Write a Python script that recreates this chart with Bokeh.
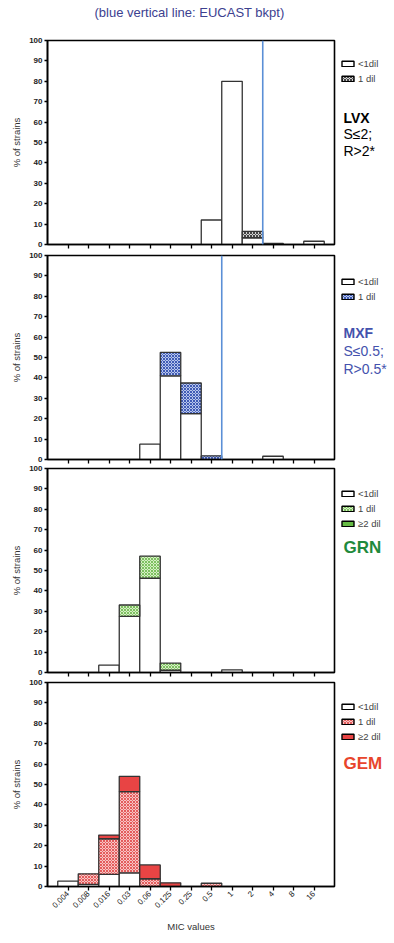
import math
from bokeh.plotting import figure
from bokeh.layouts import column, row
from bokeh.models import (ColumnDataSource, FixedTicker, Span, Label, Legend, LegendItem,
                          Range1d, CustomLabelingPolicy)
from bokeh.embed import file_html
from bokeh.resources import INLINE

# ---------------- data ----------------
mic_labels = ["0.004", "0.008", "0.016", "0.03", "0.06", "0.125", "0.25",
              "0.5", "1", "2", "4", "8", "16"]
y_ticks = [0, 10, 20, 30, 40, 50, 60, 70, 80, 90, 100]

lvx_lt1 = [0, 0, 0, 0, 0, 0, 0, 12, 80, 3.3, 0, 0, 1.6]
lvx_1dil = [0, 0, 0, 0, 0, 0, 0, 0, 0, 3.1, 0.6, 0, 0]
lvx_bkpt = "2"

mxf_lt1 = [0, 0, 0, 0, 7.5, 41, 22.5, 0, 0, 0, 1.6, 0, 0]
mxf_1dil = [0, 0, 0, 0, 0, 11.5, 15, 1.8, 0, 0, 0, 0, 0]
mxf_bkpt = "0.5"

grn_lt1 = [0, 0, 3.6, 27.5, 46.2, 1.1, 0, 0, 1.3, 0, 0, 0, 0]
grn_1dil = [0, 0, 0, 5.6, 10.8, 3.5, 0, 0, 0, 0, 0, 0, 0]
grn_2dil = [0, 0, 0, 0, 0, 0, 0, 0, 0, 0, 0, 0, 0]

gem_lt1 = [2.6, 1.0, 5.9, 6.7, 0, 0, 0, 0, 0, 0, 0, 0, 0]
gem_1dil = [0, 5.2, 17.5, 39.8, 3.8, 0, 0, 1.6, 0, 0, 0, 0, 0]
gem_2dil = [0, 0, 1.8, 7.5, 6.8, 1.8, 0, 0, 0, 0, 0, 0, 0]

title_text = "(blue vertical line: EUCAST bkpt)"

FONT = "Liberation Sans"
N = len(mic_labels)
IDX = list(range(N))
EDGE = "#333333"
MAIN_W = 340
SIDE_W = 52
TITLE_H = 24

WHITE = dict(fill_color="white")


def hatch(fill, hcol):
    return dict(fill_color=fill, hatch_pattern="diagonal_cross", hatch_color=hcol,
                hatch_scale=3, hatch_weight=1.0)


HIDE_LABELS = CustomLabelingPolicy(code="for (const i of indices) { indices.unset(i) }\nreturn indices")


def bare_figure(w, h, top=0, bottom=0):
    f = figure(width=w, height=h, output_backend="svg", toolbar_location=None,
               x_range=Range1d(0, w), y_range=Range1d(0, 100 if top or bottom else h),
               x_axis_location=None, y_axis_location=None,
               min_border_left=0, min_border_right=0, min_border_top=top,
               min_border_bottom=bottom)
    f.xgrid.visible = False
    f.ygrid.visible = False
    f.outline_line_color = None
    return f


def make_panel(series, height, top, bottom, texts, legend_y, bkpt=None, last=False):
    p = figure(width=MAIN_W, height=height, output_backend="svg", toolbar_location=None,
               x_range=Range1d(-1, 13), y_range=Range1d(0, 100),
               min_border_left=47, min_border_right=6, min_border_top=top,
               min_border_bottom=bottom)
    p.xgrid.visible = False
    p.ygrid.visible = False
    p.outline_line_color = "black"
    p.outline_line_width = 1.6

    # side panel holding legend and annotation text (same vertical frame as p)
    s = bare_figure(SIDE_W, height, top, bottom)

    cum = [0.0] * N
    items = []
    for label, vals, style in series:
        xs, bots, tops = [], [], []
        full_bot = list(cum)
        for i, v in enumerate(vals):
            if v > 0:
                xs.append(i)
                bots.append(cum[i])
                tops.append(cum[i] + v)
            cum[i] += v
        src = ColumnDataSource(dict(x=xs, bottom=bots, top=tops))
        p.vbar(x="x", bottom="bottom", top="top", width=1.0, source=src,
               line_color=EDGE, line_width=1.3, **style)
        # hidden copy of the full series, used only to draw the legend swatch
        full_src = ColumnDataSource(dict(x=IDX, bottom=full_bot,
                                         top=[b + v for b, v in zip(full_bot, vals)]))
        swatch = s.vbar(x="x", bottom="bottom", top="top", width=1.0, source=full_src,
                        line_color="black", line_width=1.4, visible=False, **style)
        items.append(LegendItem(label=label, renderers=[swatch]))

    leg = Legend(items=items, location=(0, legend_y), padding=0, margin=0,
                 spacing=3, glyph_width=15, glyph_height=7, label_height=12,
                 label_standoff=3, label_text_font=FONT, label_text_font_size="9.5px",
                 label_text_color="#444444", border_line_alpha=0,
                 background_fill_alpha=0, inactive_fill_alpha=0, click_policy="none")
    s.add_layout(leg)

    for (txt, yv, size, style, color) in texts:
        s.add_layout(Label(x=3, y=yv, text=txt, text_font=FONT,
                           text_font_size=size, text_font_style=style,
                           text_color=color, text_baseline="middle"))

    if bkpt is not None:
        p.add_layout(Span(location=mic_labels.index(bkpt) + 0.5, dimension="height",
                          line_color="#5b8fd6", line_width=1.6))

    ya = p.yaxis[0]
    ya.ticker = FixedTicker(ticks=y_ticks)
    ya.axis_line_color = "black"
    ya.axis_line_width = 1.6
    ya.major_tick_out = 3
    ya.major_tick_in = 0
    ya.major_tick_line_width = 1.3
    ya.minor_tick_line_color = None
    ya.major_label_text_font = FONT
    ya.major_label_text_font_size = "8px"
    ya.major_label_text_font_style = "bold"
    ya.major_label_text_color = "#222222"
    ya.major_label_standoff = 2
    ya.axis_label = "% of strains"
    ya.axis_label_text_font = FONT
    ya.axis_label_text_font_size = "9.5px"
    ya.axis_label_text_font_style = "normal"
    ya.axis_label_text_color = "#333333"
    ya.axis_label_standoff = 4

    xa = p.xaxis[0]
    xa.ticker = FixedTicker(ticks=IDX)
    xa.axis_line_color = "black"
    xa.axis_line_width = 1.6
    xa.major_tick_out = 4
    xa.major_tick_in = 0
    xa.major_tick_line_width = 1.3
    xa.minor_tick_line_color = None
    if last:
        xa.major_label_overrides = {i: lab for i, lab in enumerate(mic_labels)}
        xa.major_label_orientation = math.pi / 4
        xa.major_label_text_font = FONT
        xa.major_label_text_font_size = "8px"
        xa.major_label_text_color = "#222222"
        xa.major_label_standoff = 2
        xa.axis_label = "MIC values"
        xa.axis_label_text_font = FONT
        xa.axis_label_text_font_size = "9.5px"
        xa.axis_label_text_font_style = "normal"
        xa.axis_label_text_color = "#333333"
        xa.axis_label_standoff = 8
    else:
        xa.major_label_policy = HIDE_LABELS
        xa.major_label_text_font_size = "0px"
        xa.major_label_standoff = 0
    return row(p, s, spacing=0)


# title strip
t = bare_figure(MAIN_W + SIDE_W, TITLE_H)
t.add_layout(Label(x=189, y=TITLE_H - 12, text=title_text, text_font=FONT,
                   text_font_size="13px", text_color="#3c418f",
                   text_align="center", text_baseline="middle"))

BLUE_T = "#4452ad"
r1 = make_panel(
    [("<1dil", lvx_lt1, WHITE), ("1 dil", lvx_1dil, hatch("#d0d0d0", "#444444"))],
    249 - TITLE_H, 40 - TITLE_H, 5,
    [("LVX", 61.8, "14px", "bold", "black"), ("S\u22642;", 54.4, "14px", "normal", "black"),
     ("R>2*", 45.8, "14px", "normal", "black")],
    160, bkpt=lvx_bkpt)

r2 = make_panel(
    [("<1dil", mxf_lt1, WHITE), ("1 dil", mxf_1dil, hatch("#b8c6ec", "#3f5bb5"))],
    215, 6, 5,
    [("MXF", 61.8, "14px", "bold", BLUE_T), ("S\u22640.5;", 53.4, "14px", "normal", BLUE_T),
     ("R>0.5*", 44.2, "14px", "normal", BLUE_T)],
    157, bkpt=mxf_bkpt)

r3 = make_panel(
    [("<1dil", grn_lt1, WHITE), ("1 dil", grn_1dil, hatch("#d6eec4", "#7cc160")),
     ("\u22652 dil", grn_2dil, dict(fill_color="#66bb44"))],
    213, 4, 5,
    [("GRN", 61.3, "17px", "bold", "#1f8a3c")],
    143)

r4 = make_panel(
    [("<1dil", gem_lt1, WHITE), ("1 dil", gem_1dil, hatch("#f8c4c4", "#e45c5c")),
     ("\u22652 dil", gem_2dil, dict(fill_color="#e84444"))],
    262, 5, 53,
    [("GEM", 60.3, "17px", "bold", "#e8452c")],
    144, last=True)

layout = column(t, r1, r2, r3, r4, spacing=0)
open("out.html", "w").write(file_html(layout, INLINE))
